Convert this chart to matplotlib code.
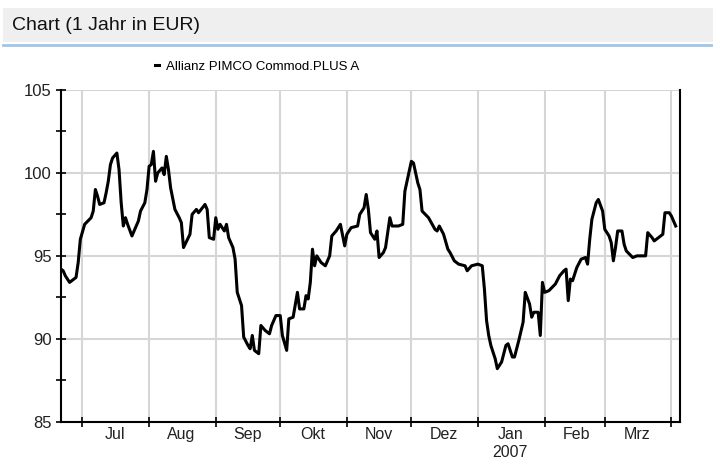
import matplotlib
matplotlib.use("Agg")
import matplotlib.pyplot as plt
import matplotlib.dates as mdates
from matplotlib.patches import Rectangle
from matplotlib.lines import Line2D
import pandas as pd

plt.rcParams['font.family'] = ['Liberation Sans', 'DejaVu Sans']

title = "Chart (1 Jahr in EUR)"
series_name = "Allianz PIMCO Commod.PLUS A"

# Kursverlauf
dates = [
    "2006-06-21", "2006-06-22", "2006-06-23", "2006-06-25", "2006-06-28", "2006-06-29", "2006-06-30",
    "2006-07-02", "2006-07-05", "2006-07-06", "2006-07-07", "2006-07-08", "2006-07-09", "2006-07-11",
    "2006-07-12", "2006-07-13", "2006-07-14", "2006-07-15", "2006-07-17", "2006-07-18", "2006-07-19",
    "2006-07-20", "2006-07-21", "2006-07-22", "2006-07-24", "2006-07-26", "2006-07-27", "2006-07-28",
    "2006-07-30", "2006-07-31", "2006-08-01", "2006-08-02", "2006-08-03", "2006-08-04", "2006-08-05",
    "2006-08-07", "2006-08-08", "2006-08-09", "2006-08-10", "2006-08-11", "2006-08-13", "2006-08-15",
    "2006-08-16", "2006-08-17", "2006-08-20", "2006-08-21", "2006-08-23", "2006-08-24", "2006-08-27",
    "2006-08-28", "2006-08-29", "2006-08-31", "2006-09-01", "2006-09-02", "2006-09-03", "2006-09-05",
    "2006-09-06", "2006-09-07", "2006-09-09", "2006-09-10", "2006-09-11", "2006-09-13", "2006-09-14",
    "2006-09-16", "2006-09-17", "2006-09-18", "2006-09-19", "2006-09-21", "2006-09-22", "2006-09-24",
    "2006-09-26", "2006-09-27", "2006-09-29", "2006-10-01", "2006-10-02", "2006-10-04", "2006-10-05",
    "2006-10-07", "2006-10-09", "2006-10-10", "2006-10-12", "2006-10-13", "2006-10-14", "2006-10-15",
    "2006-10-16", "2006-10-17", "2006-10-18", "2006-10-20", "2006-10-22", "2006-10-24", "2006-10-25",
    "2006-10-27", "2006-10-29", "2006-10-31", "2006-11-01", "2006-11-03", "2006-11-06", "2006-11-07",
    "2006-11-09", "2006-11-10", "2006-11-11", "2006-11-12", "2006-11-14", "2006-11-15", "2006-11-16",
    "2006-11-18", "2006-11-19", "2006-11-21", "2006-11-22", "2006-11-25", "2006-11-27", "2006-11-28",
    "2006-11-29", "2006-12-01", "2006-12-02", "2006-12-04", "2006-12-05", "2006-12-06", "2006-12-09",
    "2006-12-12", "2006-12-13", "2006-12-14", "2006-12-16", "2006-12-18", "2006-12-19", "2006-12-21",
    "2006-12-23", "2006-12-26", "2006-12-27", "2006-12-29", "2007-01-01", "2007-01-03", "2007-01-04",
    "2007-01-05", "2007-01-06", "2007-01-07", "2007-01-09", "2007-01-10", "2007-01-11", "2007-01-12",
    "2007-01-14", "2007-01-15", "2007-01-17", "2007-01-18", "2007-01-20", "2007-01-22", "2007-01-23",
    "2007-01-25", "2007-01-26", "2007-01-27", "2007-01-29", "2007-01-30", "2007-01-31", "2007-02-01",
    "2007-02-03", "2007-02-06", "2007-02-08", "2007-02-10", "2007-02-11", "2007-02-12", "2007-02-13",
    "2007-02-14", "2007-02-16", "2007-02-18", "2007-02-20", "2007-02-21", "2007-02-22", "2007-02-23",
    "2007-02-24", "2007-02-25", "2007-02-26", "2007-02-28", "2007-03-01", "2007-03-03", "2007-03-04",
    "2007-03-05", "2007-03-06", "2007-03-07", "2007-03-09", "2007-03-10", "2007-03-11", "2007-03-14",
    "2007-03-16", "2007-03-18", "2007-03-20", "2007-03-21", "2007-03-23", "2007-03-24", "2007-03-27",
    "2007-03-28", "2007-03-29", "2007-03-31", "2007-04-01", "2007-04-03",
]
prices = [
    94.2, 94.1, 93.8, 93.4, 93.7, 94.6, 96.0,
    96.9, 97.3, 97.7, 99.0, 98.6, 98.1, 98.2,
    98.8, 99.5, 100.5, 100.9, 101.2, 100.2, 98.2,
    96.8, 97.3, 96.9, 96.2, 96.8, 97.1, 97.7,
    98.2, 99.0, 100.4, 100.5, 101.3, 99.5, 100.0,
    100.3, 99.9, 101.0, 100.2, 99.1, 97.8, 97.3,
    97.0, 95.5, 96.3, 97.5, 97.8, 97.6, 98.1,
    97.8, 96.1, 96.0, 97.3, 96.6, 96.9, 96.5,
    96.9, 96.1, 95.5, 94.8, 92.8, 92.0, 90.1,
    89.6, 89.4, 90.2, 89.3, 89.1, 90.8, 90.5,
    90.3, 90.8, 91.4, 91.4, 90.2, 89.3, 91.2,
    91.3, 92.8, 91.8, 91.8, 92.6, 92.4, 93.4,
    95.4, 94.4, 95.0, 94.6, 94.4, 95.0, 96.2,
    96.5, 96.9, 95.6, 96.3, 96.7, 96.8, 97.5,
    97.9, 98.7, 97.8, 96.4, 96.0, 96.5, 94.9,
    95.2, 95.5, 97.3, 96.8, 96.8, 96.9, 98.9,
    99.5, 100.7, 100.6, 99.4, 99.0, 97.7, 97.3,
    96.6, 96.5, 96.8, 96.3, 95.4, 95.2, 94.7,
    94.5, 94.4, 94.1, 94.4, 94.5, 94.4, 93.0,
    91.1, 90.2, 89.6, 88.8, 88.2, 88.4, 88.6,
    89.6, 89.7, 88.9, 88.9, 89.9, 91.0, 92.8,
    92.1, 91.3, 91.6, 91.6, 90.2, 93.4, 92.8,
    92.9, 93.3, 93.8, 94.1, 94.2, 92.3, 93.6,
    93.5, 94.3, 94.8, 94.9, 94.5, 96.0, 97.2,
    97.7, 98.2, 98.4, 97.7, 96.6, 96.2, 95.8,
    94.7, 95.5, 96.5, 96.5, 95.7, 95.3, 94.9,
    95.0, 95.0, 95.0, 96.4, 96.1, 95.9, 96.2,
    96.3, 97.6, 97.6, 97.4, 96.8,
]

month_names = {1: "Jan\n2007", 2: "Feb", 3: "Mrz", 4: "Apr", 6: "Jun", 7: "Jul",
               8: "Aug", 9: "Sep", 10: "Okt", 11: "Nov", 12: "Dez"}
y_ticks = [85, 90, 95, 100, 105]

x = pd.to_datetime(dates)

fig = plt.figure(figsize=(7.13, 4.61), dpi=100)

# title bar
fig.patches.append(Rectangle((0.004, 1 - 42 / 461), 0.996, 34 / 461, transform=fig.transFigure,
                             facecolor="#efefef", edgecolor="none"))
fig.add_artist(Line2D([0.004, 1], [1 - 44.5 / 461, 1 - 44.5 / 461], transform=fig.transFigure,
                      color="#9fc5ec", linewidth=2))
fig.text(12 / 713, 1 - 26 / 461, title, fontsize=14, va="center", ha="left", color="#111111")

ax = fig.add_axes([61 / 713, 1 - 421.7 / 461, 619 / 713, 331.7 / 461])
ax.plot(x, prices, color="black", linewidth=2.2, label=series_name)

ax.set_xlim(pd.Timestamp("2006-06-21"), pd.Timestamp("2007-04-05"))
ax.set_ylim(85, 105)

ax.xaxis.set_major_locator(mdates.MonthLocator())
ax.xaxis.set_major_formatter(plt.NullFormatter())
ax.xaxis.set_minor_locator(mdates.MonthLocator(bymonthday=16))
ax.xaxis.set_minor_formatter(plt.FuncFormatter(lambda v, p: month_names[mdates.num2date(v).month]))
ax.tick_params(axis="x", which="major", direction="inout", length=7, width=1.2)
ax.tick_params(axis="x", which="minor", length=0, pad=4, labelsize=11.5, labelcolor="#222222")

ax.set_yticks(y_ticks)
ax.set_yticks([87.5, 92.5, 97.5, 102.5], minor=True)
ax.tick_params(axis="y", which="both", direction="inout", length=7, width=1.2, labelsize=12,
               pad=3, labelcolor="#222222")

ax.grid(True, which="major", color="#d6d6d6", linewidth=1.5)
ax.set_axisbelow(True)
ax.spines["top"].set_visible(False)
for s in ["left", "bottom", "right"]:
    ax.spines[s].set_linewidth(1.5)
    ax.spines[s].set_color("black")

fig.legend(loc="center", bbox_to_anchor=(257 / 713, 1 - 67 / 461), frameon=False, fontsize=9.5,
           handlelength=0.35, handletextpad=0.5, borderpad=0)

fig.savefig("out.png", dpi=100)
